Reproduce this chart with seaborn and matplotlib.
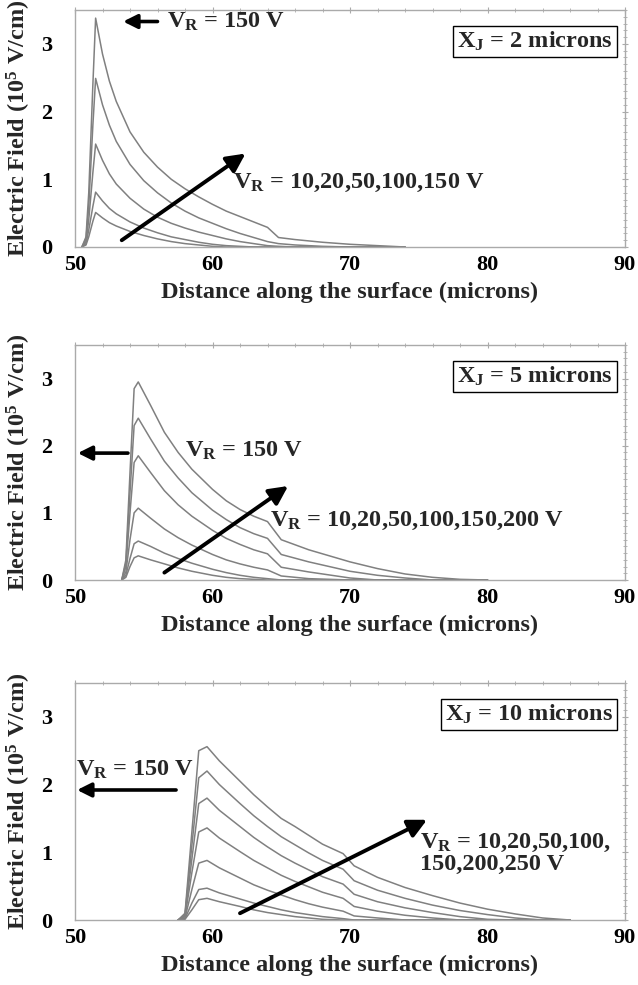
import numpy as np
import pandas as pd
import matplotlib
matplotlib.use("Agg")
import matplotlib.pyplot as plt
from matplotlib.ticker import MultipleLocator
import seaborn as sns

sns.set_theme(style="white")
plt.rcParams['font.family'] = ['Liberation Serif', 'DejaVu Serif']
plt.rcParams['font.weight'] = 'bold'
plt.rcParams['mathtext.fontset'] = 'custom'
plt.rcParams['mathtext.rm'] = 'Liberation Serif:bold'
plt.rcParams['mathtext.bf'] = 'Liberation Serif:bold'
plt.rcParams['mathtext.it'] = 'Liberation Serif:bold'

# ---------------- data ----------------
# Panel 1: XJ = 2 microns
x1 = [50.5, 50.8, 51.0, 51.3, 51.5, 52.0, 52.5, 53, 54, 55, 56, 57, 58, 59, 60, 61, 62, 63, 64, 64.8, 66, 68, 70, 72, 74]
p1_v150 = [0, 0.15, 0.8, 2.4, 3.38, 2.85, 2.45, 2.15, 1.7, 1.4, 1.18, 1.0, 0.86, 0.74, 0.63, 0.53, 0.45, 0.37, 0.29, 0.14, 0.11, 0.07, 0.04, 0.02, 0]
p1_v100 = [0, 0.12, 0.6, 1.8, 2.49, 2.1, 1.8, 1.56, 1.22, 0.98, 0.8, 0.65, 0.53, 0.43, 0.35, 0.27, 0.2, 0.14, 0.08, 0.05, 0.03, 0.01, 0, 0, 0]
p1_v50 = [0, 0.08, 0.4, 1.1, 1.52, 1.28, 1.08, 0.93, 0.72, 0.56, 0.44, 0.35, 0.28, 0.22, 0.17, 0.12, 0.08, 0.05, 0.02, 0.01, 0, 0, 0, 0, 0]
p1_v20 = [0, 0.05, 0.25, 0.6, 0.81, 0.68, 0.57, 0.49, 0.37, 0.28, 0.21, 0.15, 0.11, 0.07, 0.04, 0.02, 0.01, 0, 0, 0, 0, 0, 0, 0, 0]
p1_v10 = [0, 0.03, 0.15, 0.38, 0.51, 0.43, 0.36, 0.31, 0.23, 0.17, 0.12, 0.08, 0.05, 0.03, 0.01, 0, 0, 0, 0, 0, 0, 0, 0, 0, 0]

# Panel 2: XJ = 5 microns
x2 = [53.4, 53.7, 54.0, 54.3, 54.6, 55.5, 56.5, 57.5, 58.5, 60, 61, 62, 63, 64, 65, 67, 70, 72, 74, 76, 78, 80]
p2_v200 = [0, 0.3, 1.6, 2.85, 2.95, 2.6, 2.2, 1.9, 1.65, 1.35, 1.18, 1.05, 0.95, 0.87, 0.6, 0.45, 0.27, 0.17, 0.09, 0.04, 0.01, 0]
p2_v150 = [0, 0.25, 1.3, 2.3, 2.41, 2.1, 1.77, 1.52, 1.3, 1.04, 0.9, 0.78, 0.69, 0.62, 0.38, 0.27, 0.13, 0.07, 0.03, 0, 0, 0]
p2_v100 = [0, 0.2, 1.0, 1.75, 1.85, 1.6, 1.33, 1.12, 0.95, 0.74, 0.62, 0.53, 0.45, 0.39, 0.19, 0.12, 0.03, 0, 0, 0, 0, 0]
p2_v50 = [0, 0.12, 0.6, 1.0, 1.07, 0.92, 0.76, 0.63, 0.52, 0.38, 0.3, 0.24, 0.19, 0.15, 0.06, 0.02, 0, 0, 0, 0, 0, 0]
p2_v20 = [0, 0.07, 0.32, 0.54, 0.58, 0.5, 0.4, 0.32, 0.25, 0.16, 0.11, 0.07, 0.04, 0.02, 0, 0, 0, 0, 0, 0, 0, 0]
p2_v10 = [0, 0.04, 0.2, 0.33, 0.36, 0.3, 0.24, 0.18, 0.13, 0.07, 0.04, 0.02, 0.01, 0, 0, 0, 0, 0, 0, 0, 0, 0]

# Panel 3: XJ = 10 microns
x3 = [57.5, 58.0, 58.5, 59.0, 59.6, 60.5, 62, 63, 64, 65, 66, 67, 68, 69.5, 70.3, 72, 74, 76, 78, 80, 82, 84, 86]
p3_v250 = [0, 0.1, 1.3, 2.5, 2.56, 2.35, 2.05, 1.85, 1.67, 1.5, 1.38, 1.25, 1.12, 0.98, 0.8, 0.63, 0.48, 0.36, 0.25, 0.16, 0.09, 0.03, 0]
p3_v200 = [0, 0.08, 1.1, 2.1, 2.2, 2.0, 1.72, 1.54, 1.38, 1.23, 1.11, 0.99, 0.88, 0.75, 0.58, 0.44, 0.32, 0.22, 0.14, 0.08, 0.03, 0, 0]
p3_v150 = [0, 0.07, 0.9, 1.72, 1.8, 1.62, 1.38, 1.22, 1.08, 0.95, 0.84, 0.74, 0.64, 0.53, 0.38, 0.27, 0.18, 0.11, 0.05, 0.01, 0, 0, 0]
p3_v100 = [0, 0.05, 0.7, 1.3, 1.36, 1.21, 1.01, 0.88, 0.77, 0.66, 0.57, 0.49, 0.41, 0.32, 0.2, 0.13, 0.07, 0.03, 0, 0, 0, 0, 0]
p3_v50 = [0, 0.03, 0.45, 0.84, 0.88, 0.77, 0.62, 0.52, 0.44, 0.37, 0.3, 0.24, 0.19, 0.13, 0.06, 0.03, 0, 0, 0, 0, 0, 0, 0]
p3_v20 = [0, 0.02, 0.25, 0.45, 0.47, 0.4, 0.31, 0.25, 0.2, 0.15, 0.11, 0.08, 0.05, 0.02, 0, 0, 0, 0, 0, 0, 0, 0, 0]
p3_v10 = [0, 0.01, 0.15, 0.3, 0.32, 0.27, 0.2, 0.15, 0.11, 0.08, 0.05, 0.03, 0.01, 0, 0, 0, 0, 0, 0, 0, 0, 0, 0]

panels = [
    dict(x=x1, series={10: p1_v10, 20: p1_v20, 50: p1_v50, 100: p1_v100, 150: p1_v150},
         box=r"X$_\mathbf{J}$ = 2 microns"),
    dict(x=x2, series={10: p2_v10, 20: p2_v20, 50: p2_v50, 100: p2_v100, 150: p2_v150, 200: p2_v200},
         box=r"X$_\mathbf{J}$ = 5 microns"),
    dict(x=x3, series={10: p3_v10, 20: p3_v20, 50: p3_v50, 100: p3_v100, 150: p3_v150, 200: p3_v200, 250: p3_v250},
         box=r"X$_\mathbf{J}$ = 10 microns"),
]

W, H = 638, 985
fig = plt.figure(figsize=(W / 100, H / 100), dpi=100)
left = 75 / W
width = 550 / W
tops_bottoms = [(10, 247), (345, 580), (683, 920)]

spine_col = "#aaaaaa"
line_col = "#808080"
FS = 17.5

axes = []
for (top, bot), p in zip(tops_bottoms, panels):
    ax = fig.add_axes([left, 1 - bot / H, width, (bot - top) / H])
    rows = []
    for v, vals in p["series"].items():
        for xx, yy in zip(p["x"], vals):
            rows.append((xx, yy, v))
    df = pd.DataFrame(rows, columns=["x", "E", "VR"])
    sns.lineplot(data=df, x="x", y="E", hue="VR", units="VR", estimator=None, sort=False,
                 palette=[line_col] * len(p["series"]), linewidth=1.1, legend=False, ax=ax)
    ax.set_xlim(50, 90)
    ax.set_ylim(0, 3.5)
    ax.set_xticks([50, 60, 70, 80, 90])
    ax.set_yticks([0, 1, 2, 3])
    ax.xaxis.set_minor_locator(MultipleLocator(2))
    ax.yaxis.set_minor_locator(MultipleLocator(0.1))
    ax.tick_params(axis="both", which="both", direction="inout", top=True, right=True,
                   color=spine_col, labelsize=16, labelcolor="black")
    ax.tick_params(axis="x", pad=3)
    ax.tick_params(axis="y", pad=14)
    ax.tick_params(which="major", length=5, width=0.8)
    ax.tick_params(which="minor", length=3, width=0.6)
    for lab in ax.get_xticklabels() + ax.get_yticklabels():
        lab.set_fontweight("bold")
    for s in ax.spines.values():
        s.set_color(spine_col)
        s.set_linewidth(1.0)
    ax.set_xlabel("Distance along the surface (microns)", fontsize=FS, fontweight="bold", labelpad=5)
    ax.set_ylabel(r"Electric Field (10$^\mathbf{5}$ V/cm)", fontsize=FS, fontweight="bold", labelpad=6)
    ax.text(0.978, 0.915, p["box"], transform=ax.transAxes, ha="right", va="top",
            fontsize=FS, fontweight="bold",
            bbox=dict(boxstyle="square,pad=0.15", facecolor="white", edgecolor="black", linewidth=1.0))
    axes.append(ax)

big = dict(arrowstyle="-|>,head_length=0.7,head_width=0.35", lw=2.8, color="black", mutation_scale=16, shrinkA=0, shrinkB=0)
small = dict(arrowstyle="-|>,head_length=0.6,head_width=0.3", lw=2.6, color="black", mutation_scale=14, shrinkA=0, shrinkB=0)

# Panel 1 annotations
ax = axes[0]
ax.annotate("", xy=(53.5, 3.33), xytext=(56.0, 3.33), arrowprops=small)
ax.text(56.7, 3.33, r"V$_\mathbf{R}$ = 150 V", fontsize=FS, fontweight="bold", va="center", ha="left")
ax.annotate("", xy=(62.4, 1.38), xytext=(53.4, 0.1), arrowprops=big)
ax.text(61.5, 0.95, r"V$_\mathbf{R}$ = 10,20,50,100,150 V", fontsize=FS, fontweight="bold", va="center", ha="left")

# Panel 2 annotations
ax = axes[1]
ax.annotate("", xy=(50.2, 1.89), xytext=(53.85, 1.89), arrowprops=small)
ax.text(58.0, 1.93, r"V$_\mathbf{R}$ = 150 V", fontsize=FS, fontweight="bold", va="center", ha="left")
ax.annotate("", xy=(65.5, 1.4), xytext=(56.5, 0.11), arrowprops=big)
ax.text(64.2, 0.88, r"V$_\mathbf{R}$ = 10,20,50,100,150,200 V", fontsize=FS, fontweight="bold", va="center", ha="left")

# Panel 3 annotations
ax = axes[2]
ax.annotate("", xy=(50.15, 1.92), xytext=(57.35, 1.92), arrowprops=small)
ax.text(50.1, 2.22, r"V$_\mathbf{R}$ = 150 V", fontsize=FS, fontweight="bold", va="center", ha="left")
ax.annotate("", xy=(75.6, 1.48), xytext=(62.0, 0.1), arrowprops=big)
ax.text(75.1, 1.14, r"V$_\mathbf{R}$ = 10,20,50,100,", fontsize=FS, fontweight="bold", va="center", ha="left")
ax.text(75.1, 0.82, "150,200,250 V", fontsize=FS, fontweight="bold", va="center", ha="left")

fig.savefig("out.png", dpi=100)
